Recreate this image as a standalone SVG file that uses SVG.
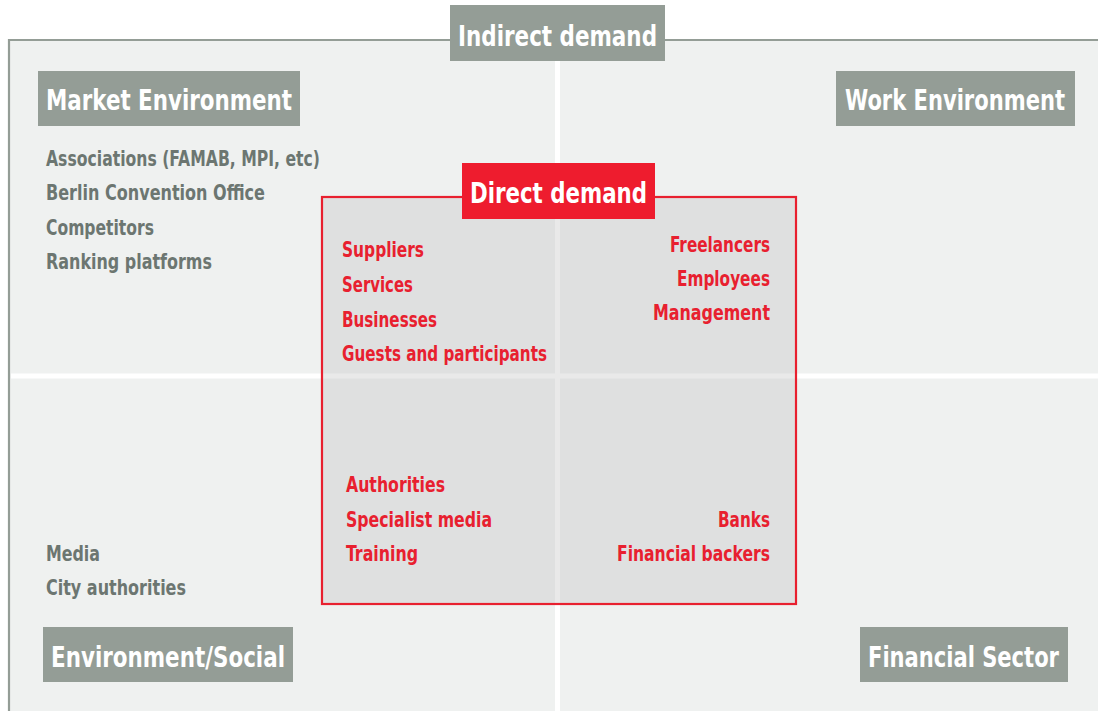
<svg xmlns="http://www.w3.org/2000/svg" width="1098" height="711" viewBox="0 0 1098 711">
  <style>
    .lbl { font-family: "DejaVu Sans Condensed", "DejaVu Sans", "Liberation Sans", sans-serif; font-weight: bold; }
    .head { font-size: 28px; fill: #ffffff; }
    .item { font-size: 20.5px; }
    .grey { fill: #6c7671; }
    .red { fill: #e8202f; }
    .tagGrey { fill: #949d96; }
    .tagRed { fill: #ee1c2e; }
  </style>

  <!-- page background -->
  <rect x="0" y="0" width="1098" height="711" fill="#ffffff"/>

  <!-- outer indirect-demand field -->
  <g id="field">
    <rect x="10" y="41" width="1088" height="670" fill="#eff1f0"/>
    <path d="M1098 40 H9 V711" fill="none" stroke="#949d96" stroke-width="2.2"/>
    <!-- quadrant dividers -->
    <rect x="555" y="61" width="5" height="650" fill="#ffffff"/>
    <rect x="11" y="373.5" width="1087" height="5" fill="#ffffff"/>
  </g>

  <!-- direct-demand area -->
  <g id="direct-area">
    <rect x="322" y="197" width="474" height="407" fill="#c4c5c4" fill-opacity="0.375"/>
    <rect x="322" y="197" width="474" height="407" fill="none" stroke="#e8202f" stroke-width="2.2"/>
  </g>

  <g id="indirect-demand">
    <rect x="450" y="5" width="215" height="56" class="tagGrey"/>
    <text x="458" y="46" class="lbl head" textLength="199" lengthAdjust="spacingAndGlyphs">Indirect demand</text>
  </g>

  <g id="direct-demand">
    <rect x="462" y="163" width="193" height="56" class="tagRed"/>
    <text x="470" y="203" class="lbl head" textLength="177" lengthAdjust="spacingAndGlyphs">Direct demand</text>
  </g>

  <g id="market-environment">
    <rect x="38" y="71" width="262" height="55" class="tagGrey"/>
    <text x="46" y="110" class="lbl head" textLength="246" lengthAdjust="spacingAndGlyphs">Market Environment</text>
  </g>

  <g id="work-environment">
    <rect x="836" y="71" width="239" height="55" class="tagGrey"/>
    <text x="845" y="110" class="lbl head" textLength="220" lengthAdjust="spacingAndGlyphs">Work Environment</text>
  </g>

  <g id="environment-social">
    <rect x="43" y="627" width="250" height="55" class="tagGrey"/>
    <text x="51" y="667" class="lbl head" textLength="234" lengthAdjust="spacingAndGlyphs">Environment/Social</text>
  </g>

  <g id="financial-sector">
    <rect x="860" y="627" width="208" height="55" class="tagGrey"/>
    <text x="868" y="667" class="lbl head" textLength="191" lengthAdjust="spacingAndGlyphs">Financial Sector</text>
  </g>

  <!-- market environment members -->
  <g id="market-list" class="lbl item grey">
    <text x="46" y="166" textLength="274" lengthAdjust="spacingAndGlyphs">Associations (FAMAB, MPI, etc)</text>
    <text x="46" y="200" textLength="219" lengthAdjust="spacingAndGlyphs">Berlin Convention Office</text>
    <text x="46" y="234.5" textLength="108" lengthAdjust="spacingAndGlyphs">Competitors</text>
    <text x="46" y="269" textLength="166" lengthAdjust="spacingAndGlyphs">Ranking platforms</text>
  </g>

  <!-- environment/social members -->
  <g id="social-list" class="lbl item grey">
    <text x="46" y="561" textLength="54" lengthAdjust="spacingAndGlyphs">Media</text>
    <text x="46" y="595" textLength="140" lengthAdjust="spacingAndGlyphs">City authorities</text>
  </g>

  <!-- direct demand, market side -->
  <g id="direct-market" class="lbl item red">
    <text x="342" y="257" textLength="82" lengthAdjust="spacingAndGlyphs">Suppliers</text>
    <text x="342" y="292" textLength="71" lengthAdjust="spacingAndGlyphs">Services</text>
    <text x="342" y="326.5" textLength="95" lengthAdjust="spacingAndGlyphs">Businesses</text>
    <text x="342" y="360.5" textLength="205" lengthAdjust="spacingAndGlyphs">Guests and participants</text>
  </g>

  <!-- direct demand, work side -->
  <g id="direct-work" class="lbl item red" text-anchor="end">
    <text x="770" y="251.5" textLength="100" lengthAdjust="spacingAndGlyphs">Freelancers</text>
    <text x="770" y="285.5" textLength="93" lengthAdjust="spacingAndGlyphs">Employees</text>
    <text x="770" y="319.5" textLength="117" lengthAdjust="spacingAndGlyphs">Management</text>
  </g>

  <!-- direct demand, social side -->
  <g id="direct-social" class="lbl item red">
    <text x="346" y="492" textLength="99" lengthAdjust="spacingAndGlyphs">Authorities</text>
    <text x="346" y="526.5" textLength="146" lengthAdjust="spacingAndGlyphs">Specialist media</text>
    <text x="346" y="560.5" textLength="72" lengthAdjust="spacingAndGlyphs">Training</text>
  </g>

  <!-- direct demand, financial side -->
  <g id="direct-financial" class="lbl item red" text-anchor="end">
    <text x="770" y="526.5" textLength="52" lengthAdjust="spacingAndGlyphs">Banks</text>
    <text x="770" y="560.5" textLength="153" lengthAdjust="spacingAndGlyphs">Financial backers</text>
  </g>
</svg>
